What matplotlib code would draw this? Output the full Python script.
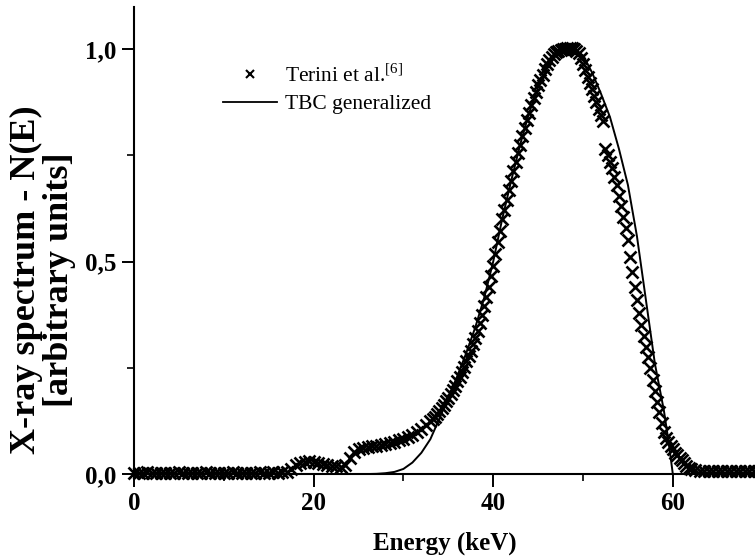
import numpy as np
import matplotlib
matplotlib.use('Agg')
import matplotlib.pyplot as plt
from matplotlib.ticker import MultipleLocator, FuncFormatter
from matplotlib.lines import Line2D

plt.rcParams['font.family'] = ['Liberation Serif', 'DejaVu Serif']
plt.rcParams['mathtext.fontset'] = 'custom'
plt.rcParams['mathtext.rm'] = 'Liberation Serif'

# Terini et al. measured spectrum (keV, normalised counts)
terini_e_low = np.arange(0, 33, 0.5)
terini_n_low = [0.003, 0.002, 0.003, 0.004, 0.003, 0.002, 0.003, 0.003, 0.002, 0.003,
                0.004, 0.003, 0.003, 0.002, 0.003, 0.003, 0.004, 0.003, 0.002, 0.003,
                0.003, 0.003, 0.004, 0.003, 0.003, 0.002, 0.003, 0.003, 0.004, 0.003,
                0.003, 0.004, 0.003, 0.004,
                0.005, 0.012, 0.022, 0.027, 0.029, 0.030, 0.029, 0.027, 0.024, 0.022,
                0.020, 0.018, 0.017, 0.022, 0.038, 0.052, 0.058, 0.062, 0.064, 0.065,
                0.066, 0.068, 0.070, 0.073, 0.076, 0.079, 0.083, 0.088, 0.093, 0.099,
                0.106, 0.115]
terini_e_peak = np.arange(33, 52.5, 0.25)
terini_n_peak = [0.124, 0.129, 0.135, 0.141, 0.148, 0.155, 0.163, 0.171, 0.180, 0.189,
                 0.198, 0.208, 0.218, 0.229, 0.240, 0.252, 0.265, 0.277, 0.290, 0.305,
                 0.320, 0.337, 0.355, 0.375, 0.395, 0.417, 0.440, 0.465, 0.490, 0.517,
                 0.545, 0.572, 0.600, 0.622, 0.645, 0.668, 0.690, 0.712, 0.735, 0.755,
                 0.775, 0.795, 0.815, 0.833, 0.850, 0.868, 0.885, 0.900, 0.915, 0.928,
                 0.940, 0.953, 0.965, 0.974, 0.982, 0.988, 0.993, 0.996, 0.998, 1.000,
                 1.000, 1.002, 1.003, 1.002, 1.000, 0.996, 0.990, 0.978, 0.965, 0.950,
                 0.935, 0.920, 0.905, 0.890, 0.875, 0.860, 0.845, 0.830]
terini_e_fall = np.arange(52.5, 62.25, 0.25)
terini_n_fall = [0.765, 0.750, 0.735, 0.720, 0.700, 0.680, 0.655, 0.630, 0.605, 0.578,
                 0.550, 0.510, 0.475, 0.440, 0.410, 0.380, 0.350, 0.325, 0.300, 0.275,
                 0.250, 0.222, 0.195, 0.170, 0.145, 0.120, 0.100, 0.085, 0.075, 0.065,
                 0.058, 0.050, 0.045, 0.038, 0.032, 0.026, 0.020, 0.015, 0.012]
terini_e_tail = np.arange(62.5, 70, 0.5)
terini_n_tail = [0.009, 0.008, 0.008, 0.007, 0.007, 0.008, 0.007, 0.006, 0.007, 0.007,
                 0.006, 0.007, 0.006, 0.007, 0.006]

# TBC generalized model
tbc_e = [0, 26, 27, 28, 29, 30, 31, 32, 33, 34, 35, 36, 37, 38, 39, 40, 41, 42, 43,
         44, 45, 46, 47, 48, 49, 50, 51, 52, 53, 54, 55, 56, 57, 58, 59, 59.5, 60, 70]
tbc_n = [0, 0, 0.0005, 0.002, 0.005, 0.012, 0.027, 0.05, 0.082, 0.13, 0.18, 0.23,
         0.285, 0.345, 0.415, 0.5, 0.6, 0.69, 0.775, 0.85, 0.91, 0.955, 0.985, 1.0,
         1.0, 0.985, 0.945, 0.895, 0.84, 0.765, 0.68, 0.56, 0.41, 0.26, 0.15, 0.08,
         0.0, 0.0]

terini_e = np.concatenate([terini_e_low, terini_e_peak, terini_e_fall, terini_e_tail])
terini_n = np.concatenate([terini_n_low, terini_n_peak, terini_n_fall, terini_n_tail])

fig = plt.figure(figsize=(7.55, 5.59), dpi=100)
ax = fig.add_axes([0.1775, 0.152, 0.8225, 0.8363])

ax.plot(tbc_e, tbc_n, color='black', lw=1.4, zorder=2)
ax.plot(terini_e, terini_n, ls='none', marker='x', color='black',
        ms=8, mew=1.9, clip_on=False, zorder=3)

ax.set_xlim(0, 69.15)
ax.set_ylim(0, 1.1)

for s in ['top', 'right']:
    ax.spines[s].set_visible(False)
for s in ['left', 'bottom']:
    ax.spines[s].set_linewidth(1.5)

ax.xaxis.set_major_locator(MultipleLocator(20))
ax.xaxis.set_minor_locator(MultipleLocator(10))
ax.yaxis.set_major_locator(MultipleLocator(0.5))
ax.yaxis.set_minor_locator(MultipleLocator(0.25))
ax.yaxis.set_major_formatter(FuncFormatter(lambda v, p: f"{v:.1f}".replace('.', ',')))
ax.xaxis.set_major_formatter(FuncFormatter(lambda v, p: f"{v:.0f}"))
ax.tick_params(which='major', direction='out', length=9, width=1.4,
               labelsize=18, pad=4)
ax.tick_params(which='minor', direction='out', length=5, width=1.2)
for lab in ax.get_xticklabels() + ax.get_yticklabels():
    lab.set_fontweight('bold')

ax.set_xlabel('Energy (keV)', fontsize=18, fontweight='bold', labelpad=12)
ax.set_ylabel('X-ray spectrum - N(E)\n[arbitrary units]', fontsize=26,
              fontweight='bold', linespacing=1.0)
ax.yaxis.set_label_coords(-0.093, 0.415)

handles = [Line2D([], [], ls='none', marker='x', color='black', ms=6, mew=1.5),
           Line2D([], [], color='black', lw=1.3)]
ax.legend(handles, ['Terini et al.$^{[6]}$', 'TBC generalized'],
          loc='upper left', bbox_to_anchor=(0.13, 0.895), frameon=False,
          fontsize=15.5, handlelength=2.5, handletextpad=0.35, labelspacing=0.35,
          borderaxespad=0)

fig.savefig('out.png', dpi=100)
